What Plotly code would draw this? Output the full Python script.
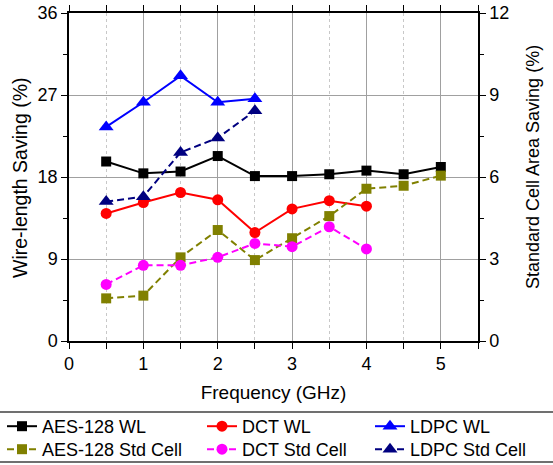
import plotly.graph_objects as go

freq_aes = [0.5, 1, 1.5, 2, 2.5, 3, 3.5, 4, 4.5, 5]
freq_dct = [0.5, 1, 1.5, 2, 2.5, 3, 3.5, 4]
freq_ldpc = [0.5, 1, 1.5, 2, 2.5]

aes_wl = [19.7, 18.4, 18.6, 20.3, 18.1, 18.1, 18.3, 18.7, 18.3, 19.1]
dct_wl = [14.0, 15.2, 16.3, 15.5, 11.9, 14.5, 15.4, 14.8]
ldpc_wl = [23.5, 26.2, 29.1, 26.2, 26.6]

aes_std = [1.56, 1.66, 3.06, 4.06, 2.96, 3.76, 4.57, 5.57, 5.68, 6.05]
dct_std = [2.07, 2.77, 2.77, 3.06, 3.57, 3.45, 4.18, 3.37]
ldpc_std = [5.10, 5.28, 6.90, 7.43, 8.42]

x_ticks = [0, 1, 2, 3, 4, 5]
y_ticks = [0, 9, 18, 27, 36]
y2_ticks = [0, 3, 6, 9, 12]

FONT = "Liberation Sans"
W, H = 553, 465
L, R, T, B = 69, 478, 13, 341  # plot area in pixels
DASH = "7px,4px"

def px_x(p):
    return p / W

def px_y(p):
    return (H - p) / H

def f(size):
    return dict(family=FONT, size=size, color="black")

fig = go.Figure()

def add(x, y, name, color, symbol, size, dash, legend, yaxis="y"):
    fig.add_trace(go.Scatter(
        x=x, y=y, name=name, mode="lines+markers", yaxis=yaxis, legend=legend,
        line=dict(color=color, width=2, dash=dash),
        marker=dict(color=color, symbol=symbol, size=size),
    ))

add(freq_aes, aes_wl, "AES-128 WL", "#000000", "square", 10, "solid", "legend")
add(freq_dct, dct_wl, "DCT WL", "#FF0000", "circle", 11, "solid", "legend2")
add(freq_ldpc, ldpc_wl, "LDPC WL", "#0000FF", "triangle-up", 13, "solid", "legend3")
add(freq_aes, aes_std, "AES-128 Std Cell", "#808000", "square", 10, DASH, "legend4", "y2")
add(freq_dct, dct_std, "DCT Std Cell", "#FF00FF", "circle", 11, DASH, "legend5", "y2")
add(freq_ldpc, ldpc_std, "LDPC Std Cell", "#000080", "triangle-up", 13, DASH, "legend6", "y2")

def leg(xpix, ytop):
    return dict(
        x=px_x(xpix), y=px_y(ytop), xanchor="left", yanchor="top",
        orientation="v", font=f(18), itemwidth=30,
        bgcolor="rgba(0,0,0,0)", tracegroupgap=0, borderwidth=0,
    )

fig.update_layout(
    width=W, height=H,
    margin=dict(l=0, r=0, t=0, b=0, autoexpand=False),
    paper_bgcolor="white", plot_bgcolor="white",
    font=f(18),
    showlegend=True,
    legend=leg(2, 408),
    legend2=leg(202, 408),
    legend3=leg(370, 408),
    legend4=leg(2, 431),
    legend5=leg(202, 431),
    legend6=leg(370, 431),
    xaxis=dict(
        domain=[px_x(L), px_x(R)],
        range=[0, 5.5], tickvals=x_ticks, ticktext=[str(v) for v in x_ticks],
        tickfont=f(18),
        showline=True, linecolor="black", linewidth=1.5, mirror="ticks",
        ticks="outside", ticklen=6, tickcolor="black", ticklabelstandoff=0,
        showgrid=True, gridcolor="#a0a0a0", gridwidth=1,
        minor=dict(dtick=0.5, tick0=0, ticks="outside", ticklen=6, tickcolor="black",
                   showgrid=True, gridcolor="#c8c8c8", griddash="dot", gridwidth=1),
        title=dict(text="Frequency (GHz)", standoff=12, font=f(19)),
        zeroline=False,
    ),
    yaxis=dict(
        domain=[px_y(B), px_y(T)],
        range=[0, 36], tickvals=y_ticks, tickfont=f(18),
        showline=True, linecolor="black", linewidth=1.5,
        ticks="outside", ticklen=6, tickcolor="black",
        showgrid=True, gridcolor="#a0a0a0", gridwidth=1,
        minor=dict(dtick=4.5, tick0=0, ticks="outside", ticklen=4, tickcolor="black", showgrid=False),
        zeroline=False,
    ),
    yaxis2=dict(
        range=[0, 12], tickvals=y2_ticks, overlaying="y", side="right", tickfont=f(18),
        showline=True, linecolor="black", linewidth=1.5,
        ticks="outside", ticklen=6, tickcolor="black",
        showgrid=False,
        minor=dict(dtick=1.5, tick0=0, ticks="outside", ticklen=4, tickcolor="black", showgrid=False),
        zeroline=False,
    ),
    annotations=[
        dict(text="Wire-length Saving (%)", textangle=-90,
             xref="paper", yref="paper", x=px_x(20), y=px_y(178),
             xanchor="center", yanchor="middle", showarrow=False, font=f(19.5)),
        dict(text="Standard Cell Area Saving (%)", textangle=-90,
             xref="paper", yref="paper", x=px_x(533), y=px_y(167),
             xanchor="center", yanchor="middle", showarrow=False, font=f(18)),
    ],
)

# legend frame lines (top and bottom)
for yy in [412, 462]:
    fig.add_shape(type="line", xref="paper", yref="paper",
                  x0=0, x1=1, y0=px_y(yy), y1=px_y(yy),
                  line=dict(color="#404040", width=1.5))

fig.write_html("out.html")
